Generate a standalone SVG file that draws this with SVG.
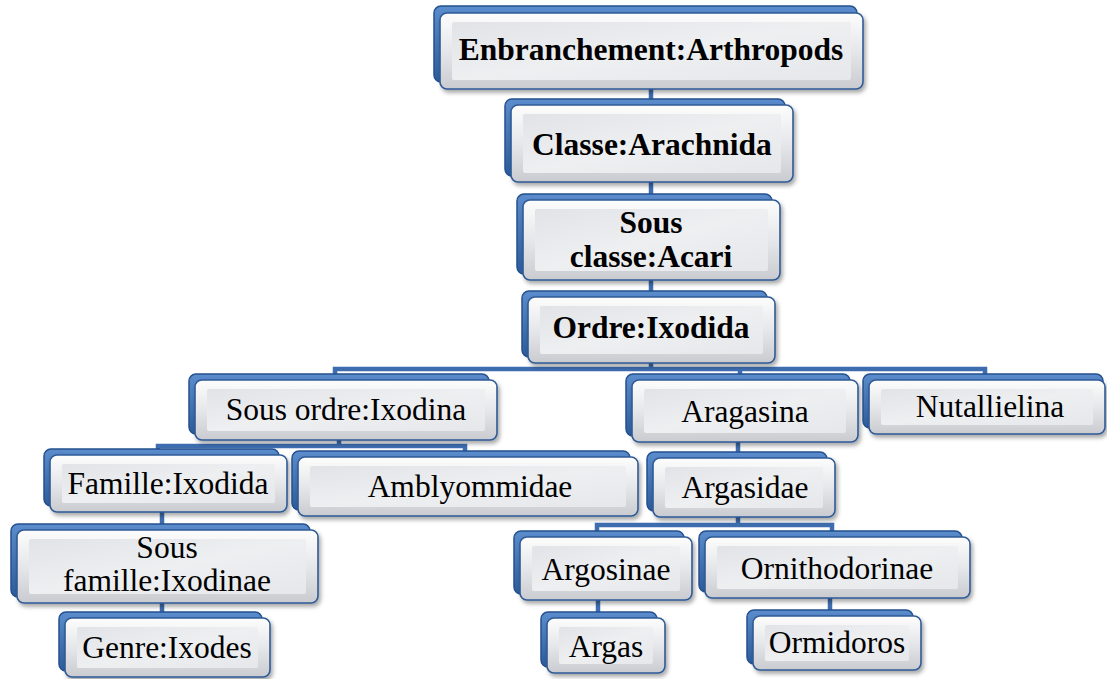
<svg xmlns="http://www.w3.org/2000/svg" width="1107" height="679" viewBox="0 0 1107 679">
<defs>
<linearGradient id="gBack" x1="0" y1="0" x2="0" y2="1"><stop offset="0" stop-color="#5b8ccc"/><stop offset="1" stop-color="#2d5c9c"/></linearGradient>
<linearGradient id="gFront" x1="0" y1="0" x2="0" y2="1"><stop offset="0" stop-color="#fdfdfd"/><stop offset="0.5" stop-color="#e6e7ea"/><stop offset="1" stop-color="#c9cbd0"/></linearGradient>
<linearGradient id="gInner" x1="0" y1="0" x2="1" y2="1"><stop offset="0" stop-color="#e2e3e7"/><stop offset="0.5" stop-color="#eeeff1"/><stop offset="1" stop-color="#e6e7ea"/></linearGradient>
<filter id="sh" x="-10%" y="-20%" width="130%" height="150%"><feDropShadow dx="2" dy="3" stdDeviation="2" flood-color="#000" flood-opacity="0.35"/></filter>
</defs>
<style>
.back{fill:url(#gBack);stroke:#24508e;stroke-width:1.5}
.front{fill:url(#gFront);stroke:#2f5a96;stroke-width:1.6;filter:url(#sh)}
.inner{fill:url(#gInner)}
.t{font-family:"Liberation Serif","Times New Roman",serif;font-size:31.5px;text-anchor:middle;fill:#000}
.b{font-weight:bold}
.c{fill:none;stroke:#3d6daf;stroke-width:4.5}
</style>
<g id="connectors">
<path class="c" d="M651 89V105M651 182V200M651 280V297M651 363V369"/>
<path class="c" d="M335 378V369H985V378M740 369V378"/>
<path class="c" d="M339 440V446M158 452V446H465V452"/>
<path class="c" d="M162 512V528M162 603V615"/>
<path class="c" d="M738 442V455"/>
<path class="c" d="M738 517V525M597 534V525H832V534"/>
<path class="c" d="M598 600V615M830 598V613"/>
</g>
<g id="n-enbranchement">
<rect class="back" x="434" y="6" width="423" height="76" rx="7"/>
<rect class="front" x="440" y="13" width="423" height="76" rx="7"/>
<rect class="inner" x="452" y="22" width="399" height="58" rx="2"/>
<text class="t b" x="651" y="60">Enbranchement:Arthropods</text>
</g>
<g id="n-classe">
<rect class="back" x="505" y="99" width="280" height="77" rx="7"/>
<rect class="front" x="511" y="105" width="282" height="77" rx="7"/>
<rect class="inner" x="523" y="114" width="258" height="59" rx="2"/>
<text class="t b" x="652" y="155">Classe:Arachnida</text>
</g>
<g id="n-sousclasse">
<rect class="back" x="517" y="194" width="255" height="80" rx="7"/>
<rect class="front" x="523" y="200" width="257" height="80" rx="7"/>
<rect class="inner" x="535" y="209" width="233" height="62" rx="2"/>
<text class="t b" x="651" y="233">Sous</text>
<text class="t b" x="651" y="267">classe:Acari</text>
</g>
<g id="n-ordre">
<rect class="back" x="522" y="291" width="245" height="66" rx="7"/>
<rect class="front" x="528" y="297" width="247" height="66" rx="7"/>
<rect class="inner" x="540" y="306" width="223" height="48" rx="2"/>
<text class="t b" x="651" y="338">Ordre:Ixodida</text>
</g>
<g id="n-sousordre">
<rect class="back" x="189" y="374" width="300" height="60" rx="7"/>
<rect class="front" x="195" y="380" width="302" height="60" rx="7"/>
<rect class="inner" x="207" y="389" width="278" height="42" rx="2"/>
<text class="t" x="346" y="420">Sous ordre:Ixodina</text>
</g>
<g id="n-aragasina">
<rect class="back" x="626" y="374" width="224" height="62" rx="7"/>
<rect class="front" x="632" y="380" width="226" height="62" rx="7"/>
<rect class="inner" x="644" y="389" width="202" height="44" rx="2"/>
<text class="t" x="745" y="422">Aragasina</text>
</g>
<g id="n-nutallielina">
<rect class="back" x="863" y="374" width="240" height="54" rx="7"/>
<rect class="front" x="869" y="380" width="236" height="54" rx="7"/>
<rect class="inner" x="881" y="389" width="212" height="36" rx="2"/>
<text class="t" x="990" y="417">Nutallielina</text>
</g>
<g id="n-famille">
<rect class="back" x="44" y="449" width="235" height="57" rx="7"/>
<rect class="front" x="50" y="455" width="237" height="57" rx="7"/>
<rect class="inner" x="62" y="464" width="213" height="39" rx="2"/>
<text class="t" x="168" y="494">Famille:Ixodida</text>
</g>
<g id="n-amblyommidae">
<rect class="back" x="292" y="451" width="338" height="59" rx="7"/>
<rect class="front" x="298" y="457" width="340" height="59" rx="7"/>
<rect class="inner" x="310" y="466" width="316" height="41" rx="2"/>
<text class="t" x="470" y="497">Amblyommidae</text>
</g>
<g id="n-argasidae">
<rect class="back" x="647" y="452" width="180" height="59" rx="7"/>
<rect class="front" x="653" y="458" width="182" height="59" rx="7"/>
<rect class="inner" x="665" y="467" width="158" height="41" rx="2"/>
<text class="t" x="745" y="498">Argasidae</text>
</g>
<g id="n-sousfamille">
<rect class="back" x="11" y="524" width="299" height="73" rx="7"/>
<rect class="front" x="17" y="530" width="301" height="73" rx="7"/>
<rect class="inner" x="29" y="539" width="277" height="55" rx="2"/>
<text class="t" x="167" y="558">Sous</text>
<text class="t" x="167" y="591">famille:Ixodinae</text>
</g>
<g id="n-argosinae">
<rect class="back" x="514" y="531" width="170" height="63" rx="7"/>
<rect class="front" x="520" y="537" width="172" height="63" rx="7"/>
<rect class="inner" x="532" y="546" width="148" height="45" rx="2"/>
<text class="t" x="606" y="580">Argosinae</text>
</g>
<g id="n-ornithodorinae">
<rect class="back" x="699" y="531" width="263" height="61" rx="7"/>
<rect class="front" x="705" y="537" width="265" height="61" rx="7"/>
<rect class="inner" x="717" y="546" width="241" height="43" rx="2"/>
<text class="t" x="837" y="579">Ornithodorinae</text>
</g>
<g id="n-genre">
<rect class="back" x="59" y="612" width="203" height="59" rx="7"/>
<rect class="front" x="65" y="618" width="205" height="59" rx="7"/>
<rect class="inner" x="77" y="627" width="181" height="41" rx="2"/>
<text class="t" x="167" y="658">Genre:Ixodes</text>
</g>
<g id="n-argas">
<rect class="back" x="541" y="612" width="116" height="55" rx="7"/>
<rect class="front" x="547" y="618" width="118" height="55" rx="7"/>
<rect class="inner" x="559" y="627" width="94" height="37" rx="2"/>
<text class="t" x="606" y="657">Argas</text>
</g>
<g id="n-ormidoros">
<rect class="back" x="747" y="610" width="166" height="54" rx="7"/>
<rect class="front" x="753" y="616" width="168" height="54" rx="7"/>
<rect class="inner" x="765" y="625" width="144" height="36" rx="2"/>
<text class="t" x="837" y="653">Ormidoros</text>
</g>
</svg>
